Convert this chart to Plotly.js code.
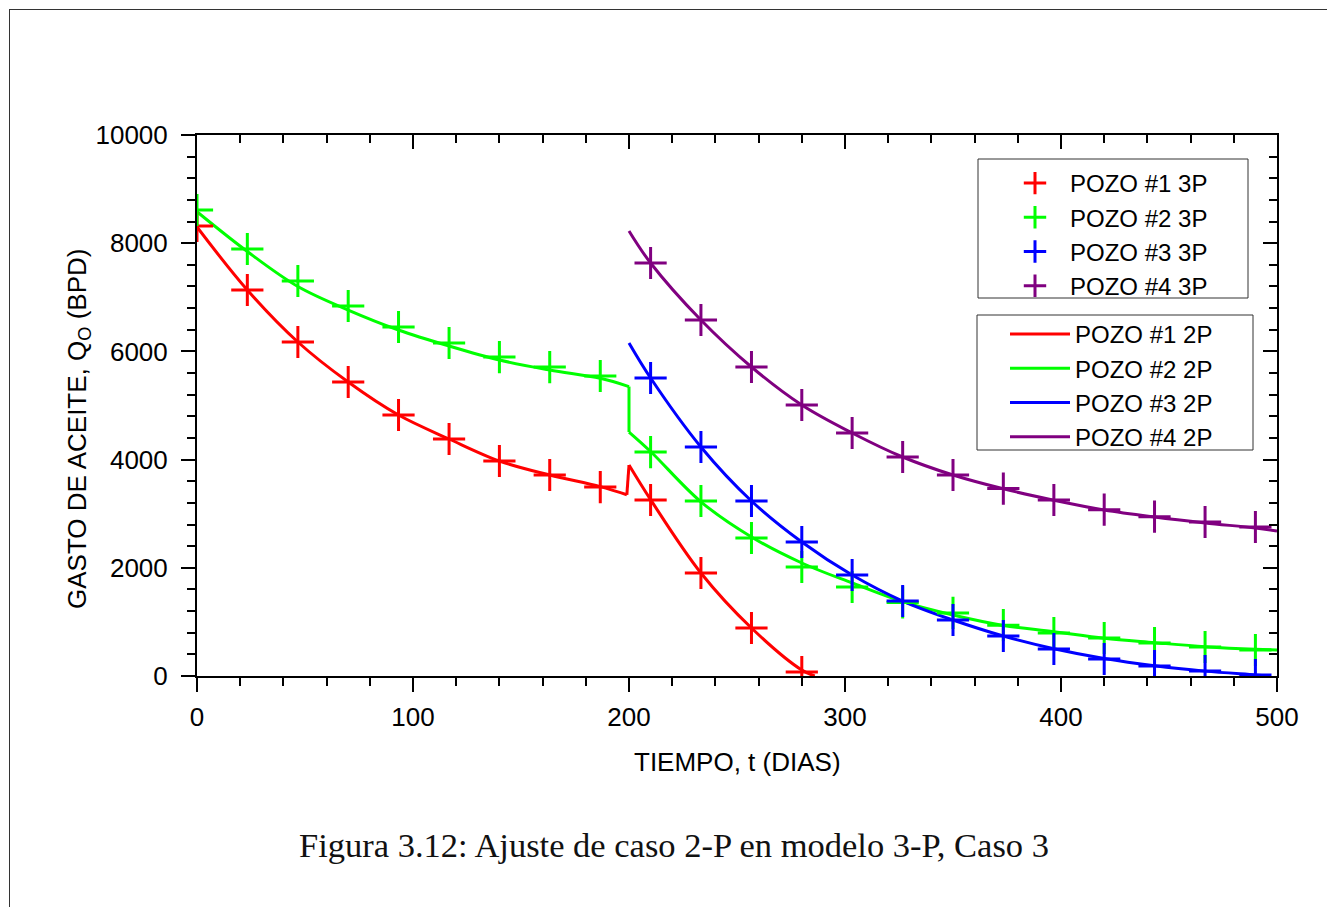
<!DOCTYPE html>
<html>
<head>
<meta charset="utf-8">
<script src="https://cdn.plot.ly/plotly-3.0.1.min.js"></script>
<style>
  html, body { margin: 0; padding: 0; background: #fff; }
  #frame { position: absolute; left: 9px; top: 9px; width: 1330px; height: 910px;
           border-top: 1px solid #333; border-left: 1px solid #333; pointer-events: none; z-index: 5; }
  #chart { position: absolute; left: 0; top: 0; width: 1327px; height: 907px; }
</style>
</head>
<body>
<div id="chart"></div>
<div id="frame"></div>
<script>
// ---- 3P markers (days, BPD) ----
const t3p_1 = [0, 23.3, 46.7, 70, 93.3, 116.7, 140, 163.3, 186.7, 210, 233.3, 256.7, 280];
const q3p_1 = [8318, 7135, 6174, 5434, 4824, 4381, 3974, 3715, 3493, 3253, 1904, 887, 74];

const t3p_2 = [0, 23.3, 46.7, 70, 93.3, 116.7, 140, 163.3, 186.7, 210, 233.3, 256.7, 280, 303.3, 326.7, 350, 373.3, 396.7, 420, 443.3, 466.7, 490];
const q3p_2 = [8614, 7893, 7301, 6839, 6451, 6155, 5896, 5711, 5545, 4140, 3235, 2551, 2015, 1645, 1360, 1165, 940, 795, 702, 610, 536, 481];

const t3p_3 = [210, 233.3, 256.7, 280, 303.3, 326.7, 350, 373.3, 396.7, 420, 443.3, 466.7, 490];
const q3p_3 = [5508, 4233, 3235, 2477, 1867, 1386, 1035, 739, 499, 314, 185, 92, 18];

const t3p_4 = [210, 233.3, 256.7, 280, 303.3, 326.7, 350, 373.3, 396.7, 420, 443.3, 466.7, 490];
const q3p_4 = [7634, 6580, 5712, 5009, 4492, 4048, 3715, 3465, 3253, 3075, 2945, 2847, 2754];

// ---- 2P curves (days, BPD); the jump at t = 200 is where the well schedule changes ----
const t2p_1 = [0, 23.3, 46.7, 70, 93.3, 116.7, 140, 163.3, 186.7, 199, 200, 210, 233.3, 256.7, 280, 286];
const q2p_1 = [8300, 7135, 6174, 5434, 4824, 4381, 3974, 3715, 3500, 3350, 3900, 3260, 1904, 887, 110, 0];

const t2p_2 = [0, 23.3, 46.7, 70, 93.3, 116.7, 140, 163.3, 186.7, 200, 200, 210, 233.3, 256.7, 280, 303.3, 326.7, 350, 373.3, 396.7, 420, 443.3, 466.7, 490, 500];
const q2p_2 = [8582, 7847, 7200, 6765, 6396, 6100, 5841, 5656, 5503, 5350, 4510, 4150, 3220, 2570, 2089, 1719, 1374, 1128, 935, 819, 696, 616, 542, 493, 481];

const t2p_3 = [200, 210, 233.3, 256.7, 280, 303.3, 326.7, 350, 373.3, 396.7, 420, 443.3, 466.7, 490, 496];
const q2p_3 = [6155, 5508, 4233, 3235, 2477, 1867, 1386, 1035, 739, 505, 325, 190, 90, 20, 0];

const t2p_4 = [200, 210, 233.3, 256.7, 280, 303.3, 326.7, 350, 373.3, 396.7, 420, 443.3, 466.7, 490, 500];
const q2p_4 = [8226, 7634, 6580, 5712, 5009, 4492, 4048, 3715, 3460, 3250, 3070, 2940, 2830, 2735, 2680];

const names3p = ['POZO #1 3P', 'POZO #2 3P', 'POZO #3 3P', 'POZO #4 3P'];
const names2p = ['POZO #1 2P', 'POZO #2 2P', 'POZO #3 2P', 'POZO #4 2P'];
const colors = ['#ff0000', '#00ff00', '#0000ff', '#800080'];

const mkT = [t3p_1, t3p_2, t3p_3, t3p_4];
const mkQ = [q3p_1, q3p_2, q3p_3, q3p_4];
const lnT = [t2p_1, t2p_2, t2p_3, t2p_4];
const lnQ = [q2p_1, q2p_2, q2p_3, q2p_4];

const FONT = 'Liberation Sans, Arial, sans-serif';
const traces = [];

// split each 2P curve at its discontinuity near t = 200 so the smooth parts stay smooth
function breakIndex(t) {
  for (let k = 1; k + 1 < t.length; k++) { if (t[k - 1] < 200 && t[k] === 200 && t[k + 1] === 200) return k; }
  for (let k = 1; k < t.length; k++) { if (t[k - 1] < 200 && t[k] === 200) return k - 1; }
  return -1;
}
for (let i = 0; i < 4; i++) {
  const t = lnT[i], q = lnQ[i];
  const b = breakIndex(t);
  const lineStyle = { color: colors[i], width: 3, shape: 'spline', smoothing: 1 };
  if (b < 0) {
    traces.push({ x: t, y: q, mode: 'lines', name: names2p[i], legend: 'legend2', line: lineStyle, hoverinfo: 'skip' });
  } else {
    traces.push({ x: t.slice(0, b + 1), y: q.slice(0, b + 1), mode: 'lines', name: names2p[i], legend: 'legend2',
      line: lineStyle, hoverinfo: 'skip' });
    traces.push({ x: t.slice(b, b + 2), y: q.slice(b, b + 2), mode: 'lines', legend: 'legend2',
      showlegend: false, line: { color: colors[i], width: 3 }, hoverinfo: 'skip' });
    traces.push({ x: t.slice(b + 1), y: q.slice(b + 1), mode: 'lines', legend: 'legend2',
      showlegend: false, line: lineStyle, hoverinfo: 'skip' });
  }
}
for (let i = 0; i < 4; i++) {
  traces.push({
    x: mkT[i], y: mkQ[i], mode: 'markers', name: names3p[i], legend: 'legend',
    marker: { symbol: 'cross-thin', size: 23, color: colors[i], line: { color: colors[i], width: 3 } },
    hoverinfo: 'skip'
  });
}
traces.push({ x: [], y: [], xaxis: 'x2', yaxis: 'y2', showlegend: false, hoverinfo: 'skip', mode: 'markers' });

const axBase = {
  showgrid: false, zeroline: false, showline: true, linecolor: '#000', linewidth: 2,
  tickcolor: '#000', tickwidth: 2, ticklen: 14, tickformat: 'd',
  tickfont: { family: FONT, size: 26, color: '#000' }
};

function px2x(p) { return (p - 197) / 1080; }
function px2y(p) { return (676 - p) / 541; }

const layout = {
  width: 1327, height: 907,
  margin: { l: 197, r: 50, t: 135, b: 231, pad: 0 },
  paper_bgcolor: '#fff', plot_bgcolor: '#fff',
  showlegend: true,
  xaxis: Object.assign({}, axBase, {
    range: [0, 500], dtick: 100, tick0: 0, ticks: 'outside', ticklabelstandoff: 3,
    minor: { dtick: 20, tick0: 0, ticks: 'outside', ticklen: 8, tickwidth: 2, tickcolor: '#000' }
  }),
  yaxis: Object.assign({}, axBase, {
    range: [0, 10000], dtick: 2000, tick0: 0, ticks: 'outside', ticklabelstandoff: 8,
    minor: { dtick: 400, tick0: 0, ticks: 'outside', ticklen: 8, tickwidth: 2, tickcolor: '#000' }
  }),
  xaxis2: Object.assign({}, axBase, {
    range: [0, 500], dtick: 100, tick0: 0, ticks: 'inside', overlaying: 'x', side: 'top', anchor: 'y2',
    showticklabels: false,
    minor: { dtick: 20, tick0: 0, ticks: 'inside', ticklen: 8, tickwidth: 2, tickcolor: '#000' }
  }),
  yaxis2: Object.assign({}, axBase, {
    range: [0, 10000], dtick: 2000, tick0: 0, ticks: 'inside', overlaying: 'y', side: 'right', anchor: 'x2',
    showticklabels: false,
    minor: { dtick: 400, tick0: 0, ticks: 'inside', ticklen: 8, tickwidth: 2, tickcolor: '#000' }
  }),
  legend: {
    x: px2x(1000), y: px2y(161), xanchor: 'left', yanchor: 'top',
    bgcolor: 'rgba(0,0,0,0)', borderwidth: 0, tracegroupgap: 0,
    font: { family: FONT, size: 24, color: '#000' }, itemwidth: 60
  },
  legend2: {
    x: px2x(1005), y: px2y(312), xanchor: 'left', yanchor: 'top',
    bgcolor: 'rgba(0,0,0,0)', borderwidth: 0, tracegroupgap: 0,
    font: { family: FONT, size: 24, color: '#000' }, itemwidth: 60
  },
  shapes: [
    { type: 'rect', xref: 'paper', yref: 'paper', x0: px2x(978), x1: px2x(1248), y0: px2y(298), y1: px2y(159),
      fillcolor: '#fff', line: { color: '#333', width: 1 }, layer: 'above' },
    { type: 'rect', xref: 'paper', yref: 'paper', x0: px2x(977), x1: px2x(1253), y0: px2y(450), y1: px2y(315),
      fillcolor: '#fff', line: { color: '#333', width: 1 }, layer: 'above' }
  ],
  annotations: [
    { text: 'TIEMPO, t (DIAS)', xref: 'paper', yref: 'paper', x: 0.5, y: px2y(762),
      xanchor: 'center', yanchor: 'middle', showarrow: false,
      font: { family: FONT, size: 26, color: '#000' } },
    { text: 'GASTO DE ACEITE, Q<sub>O</sub> (BPD)', xref: 'paper', yref: 'paper',
      x: px2x(78), y: px2y(429), xanchor: 'center', yanchor: 'middle',
      textangle: -90, showarrow: false, font: { family: FONT, size: 26, color: '#000' } },
    { text: 'Figura 3.12: Ajuste de caso 2-P en modelo 3-P, Caso 3', xref: 'paper', yref: 'paper',
      x: px2x(674), y: px2y(845), xanchor: 'center', yanchor: 'middle',
      showarrow: false, font: { family: 'Liberation Serif, DejaVu Serif, serif', size: 34.5, color: '#111' } }
  ]
};

Plotly.newPlot('chart', traces, layout, { displayModeBar: false, staticPlot: true });
</script>
</body>
</html>
